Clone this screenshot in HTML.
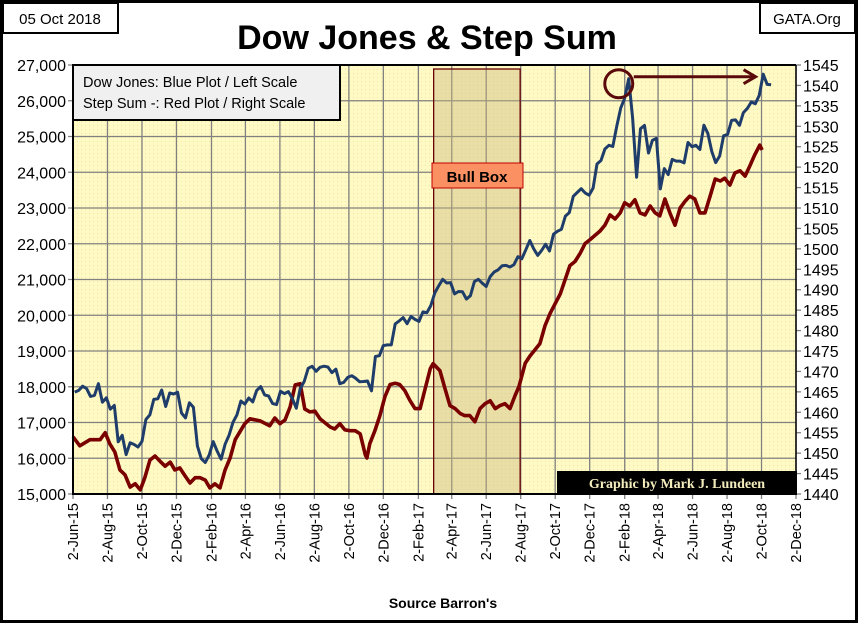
<!DOCTYPE html>
<html><head><meta charset="utf-8">
<style>
html,body{margin:0;padding:0;background:#fff;}
#wrap{position:relative;width:858px;height:623px;overflow:hidden;font-family:"Liberation Sans",sans-serif;}
svg text{font-family:"Liberation Sans",sans-serif;}
</style></head>
<body>
<div id="wrap">
<svg id="chart" width="858" height="623" xmlns="http://www.w3.org/2000/svg">
  <defs>
    <pattern id="dots" width="4" height="4" patternUnits="userSpaceOnUse">
      <rect width="4" height="4" fill="#fffac3"/>
      <rect x="1" y="1" width="1" height="1" fill="#eee3ab"/>
    </pattern>
  </defs>
  <rect x="1.5" y="1.5" width="855" height="620" fill="#fff" stroke="#000" stroke-width="3"/>
  <rect x="3" y="3" width="115" height="30" fill="#fff" stroke="#000" stroke-width="2"/>
  <text x="60" y="24" font-size="15" text-anchor="middle">05 Oct 2018</text>
  <rect x="760" y="3" width="95" height="30" fill="#fff" stroke="#000" stroke-width="2"/>
  <text x="807" y="24" font-size="15" text-anchor="middle">GATA.Org</text>
  <text x="427" y="49" font-size="34" font-weight="bold" text-anchor="middle">Dow Jones &amp; Step Sum</text>
  <rect x="73" y="65" width="723" height="429" fill="url(#dots)"/>
  <g id="grid"></g>
  <g id="bull"></g>
  <g id="series"></g>
  <g id="axes"></g>
  <rect x="73" y="65" width="267" height="55" fill="#f0f0f0" stroke="#000" stroke-width="2"/>
  <text x="83" y="87" font-size="14.5">Dow Jones: Blue Plot / Left Scale</text>
  <text x="83" y="108" font-size="14.5">Step Sum -: Red Plot / Right Scale</text>
  <rect x="557" y="471" width="240" height="23" fill="#000"/>
  <text x="677" y="488" font-size="14" font-weight="bold" fill="#f3ecbd" text-anchor="middle" style="font-family:'Liberation Serif',serif">Graphic by Mark J. Lundeen</text>
  <text x="443" y="608" font-size="14" font-weight="bold" text-anchor="middle">Source Barron's</text>
</svg>
</div>
<script>
const dowStart = "2015-06-05";
const dowValues = [17849,17899,18015,17947,17730,17760,18086,17568,17690,17373,17477,16460,16643,16102,16433,16385,16315,16472,
17084,17216,17646,17663,17910,17448,17824,17798,17847,17265,17128,17552,17425,
16346,15988,15882,16093,16466,16204,15973,16392,16639,17006,17213,17602,17515,17685,17577,17897,18003,17773,17740,17535,17500,17873,
17807,17865,17675,17400,17949,18147,18516,18571,18432,18543,18576,18552,18395,18492,18085,18124,18261,18308,18240,18138,18146,18161,17888,
18847,18868,19152,19170,19171,19757,19843,19934,19763,
19964,19885,19827,20094,20071,20269,20624,20822,21005,20903,20914,20596,20663,20656,20453,20548,20940,21006,20896,20804,21080,21206,
21271,21384,21394,21349,21414,21637,21580,21830,22092,21858,21674,21813,21987,21797,22268,22349,22405,22773,22871,23328,23434,23539,
23422,23358,23558,24231,24329,24651,24754,24719,
25295,25803,26071,26616,25521,23860,25219,25310,24538,24895,24946,23533,24103,23933,24360,24311,24311,24262,24831,24715,24753,24635,
25317,25090,24580,24271,24456,25019,25058,25451,25463,25313,25669,25790,25965,25916,26154,26743,26458,26447];
const stepDays = [0,12,30,48,57,65,74,83,92,101,110,119,127,136,145,154,163,172,180,189,198,207,216,225,234,242,251,260,269,278,287,295,304,313,331,348,357,366,375,384,393,402,410,419,428,437,446,455,463,472,481,490,499,508,517,520,525,534,543,552,561,570,578,587,596,605,614,623,632,637,649,658,667,676,685,693,702,711,720,729,738,747,755,764,773,782,789,800,808,826,835,844,853,862,879,888,897,906,915,932,941,950,959,968,976,985,994,1003,1012,1021,1030,1038,1047,1056,1065,1074,1083,1091,1100,1109,1118,1127,1136,1145,1153,1162,1171,1180,1189,1198,1206,1215,1219];
const stepValues = [1454,1451.8,1453.3,1453.3,1455,1452.3,1450.3,1445.9,1444.7,1441.7,1442.5,1441,1444,1448.3,1449.3,1448,1446.8,1447.8,1445.9,1446.4,1444.5,1442.7,1444,1444,1443.4,1441.5,1442.5,1441.5,1445.9,1448.8,1453.3,1455.2,1457.2,1458.4,1457.9,1456.7,1458.6,1457.2,1458.1,1461.3,1466.7,1467,1460.8,1460.1,1460.3,1458.4,1457.4,1456.4,1455.9,1457.2,1455.7,1455.5,1455.5,1454.7,1449.6,1448.8,1452.3,1455.5,1459.2,1463.9,1466.8,1467.1,1466.8,1465.3,1462.9,1460.9,1460.9,1465.8,1470.7,1471.9,1470.2,1465.8,1461.6,1460.9,1459.7,1459.2,1459.2,1457.7,1460.9,1462.1,1462.8,1460.9,1461.6,1462.1,1460.9,1464.1,1466.3,1472,1473.7,1476.8,1481.2,1484.2,1486.6,1489,1495.9,1496.9,1498.9,1501.3,1502.3,1504.3,1505.8,1508.3,1507.3,1508.8,1511.3,1510.5,1512,1508.8,1508.3,1510.5,1508.8,1508.1,1512.2,1508.8,1505.8,1510,1511.7,1512.9,1512.2,1508.8,1508.8,1512.9,1517.1,1516.6,1517.3,1515.6,1518.6,1519.1,1517.8,1520.5,1523,1525.4,1524.2];
const xTickLabels = ["2-Jun-15","2-Aug-15","2-Oct-15","2-Dec-15","2-Feb-16","2-Apr-16","2-Jun-16","2-Aug-16","2-Oct-16","2-Dec-16","2-Feb-17","2-Apr-17","2-Jun-17","2-Aug-17","2-Oct-17","2-Dec-17","2-Feb-18","2-Apr-18","2-Jun-18","2-Aug-18","2-Oct-18","2-Dec-18"];
const leftTicks = [15000,16000,17000,18000,19000,20000,21000,22000,23000,24000,25000,26000,27000];
const rightTicks = [1440,1445,1450,1455,1460,1465,1470,1475,1480,1485,1490,1495,1500,1505,1510,1515,1520,1525,1530,1535,1540,1545];
const bullBoxRange = ["2017-03-01","2017-08-01"];
const peakDate = "2018-01-26", peakValue = 26616, arrowEndDate = "2018-09-25";

const NS = "http://www.w3.org/2000/svg";
const L=73,R=796,T=65,B=494;
const t0 = Date.parse("2015-06-02"), t1 = Date.parse("2018-12-02");
const DAY = 86400000;
function xDate(ms){return L+(ms-t0)/(t1-t0)*(R-L);}
function xDay(d){return xDate(t0+d*DAY);}
function yL(v){return B-(v-15000)/(27000-15000)*(B-T);}
function yR(v){return B-(v-1440)/(1545-1440)*(B-T);}
function mk(tag,attrs,parent){const e=document.createElementNS(NS,tag);for(const k in attrs)e.setAttribute(k,attrs[k]);parent.appendChild(e);return e;}

const grid=document.getElementById('grid'), axes=document.getElementById('axes'), ser=document.getElementById('series'), bull=document.getElementById('bull');
xTickLabels.forEach((lab,i)=>{
  const p=lab.split('-'); const mon={Jan:0,Feb:1,Mar:2,Apr:3,May:4,Jun:5,Jul:6,Aug:7,Sep:8,Oct:9,Nov:10,Dec:11}[p[1]];
  const ms=Date.UTC(2000+ +p[2],mon,+p[0]); const x=xDate(ms);
  const ln=mk('line',{x1:x,x2:x,y1:T,y2:B+5,stroke:'#808080','stroke-width':1.3},grid);
  
  
  const tx=mk('text',{x:0,y:0,'font-size':14.5,'text-anchor':'end',transform:`translate(${x+5},503) rotate(-90)`},axes);
  tx.textContent=lab;
  
  
});
leftTicks.forEach(v=>{
  const y=yL(v);
  const ln=mk('line',{x1:L-5,x2:R,y1:y,y2:y,stroke:'#808080','stroke-width':1.3},grid);
  
  
  const tx=mk('text',{x:66,y:y+6,'font-size':16,'text-anchor':'end'},axes);
  tx.textContent=v.toLocaleString('en-US');
  
  
});
rightTicks.forEach(v=>{
  const y=yR(v);
  const ln=mk('line',{x1:R,x2:R+5,y1:y,y2:y,stroke:'#808080','stroke-width':1.3},axes);
  
  
  const tx=mk('text',{x:803,y:y+6,'font-size':16},axes);
  tx.textContent=v;
  
  
});
let a=mk('line',{x1:L,x2:L,y1:T,y2:B+1,stroke:'#000','stroke-width':2},axes);


a=mk('line',{x1:L,x2:R+1,y1:B,y2:B,stroke:'#000','stroke-width':2},axes);


a=mk('line',{x1:R,x2:R,y1:T,y2:B,stroke:'#000','stroke-width':1.5},axes);


a=mk('line',{x1:L,x2:R,y1:T,y2:T,stroke:'#000','stroke-width':2},axes);


const bx1=xDate(Date.parse(bullBoxRange[0])), bx2=xDate(Date.parse(bullBoxRange[1]));
let bb=mk('rect',{x:bx1,y:69,width:bx2-bx1,height:B-69,fill:'#c9b77a','fill-opacity':0.4,stroke:'#6b0000','stroke-width':1.3},bull);


let bl=mk('rect',{x:432,y:163,width:91,height:25,fill:'#fb9062',stroke:'#c00000','stroke-width':1},bull);


let bt=mk('text',{x:477,y:182,'font-size':15,'font-weight':'bold','text-anchor':'middle'},bull);
bt.textContent='Bull Box';


const s0=Date.parse(dowStart);
const dowPts=dowValues.map((v,i)=>xDate(s0+i*7*DAY).toFixed(1)+','+yL(v).toFixed(1)).join(' ');
const stepPts=stepValues.map((v,i)=>xDay(stepDays[i]).toFixed(1)+','+yR(v).toFixed(1)).join(' ');
let rl=mk('polyline',{points:stepPts,fill:'none',stroke:'#7a0000','stroke-width':3.6,'stroke-linejoin':'round'},ser);


let dl=mk('polyline',{points:dowPts,fill:'none',stroke:'#1f3d6b','stroke-width':3,'stroke-linejoin':'round'},ser);


const cx=xDate(Date.parse(peakDate)), cy=yL(peakValue)+5;
let c=mk('circle',{cx:cx-2,cy:cy,r:14,fill:'none',stroke:'#5a0a0a','stroke-width':3},ser);


const ax2=xDate(Date.parse(arrowEndDate));
let ar=mk('line',{x1:cx+13,x2:ax2-4,y1:cy-7,y2:cy-7,stroke:'#5a0a0a','stroke-width':3},ser);


let ah=mk('polyline',{points:`${ax2-14},${cy-14} ${ax2-2},${cy-7} ${ax2-14},${cy}`,fill:'none',stroke:'#5a0a0a','stroke-width':3},ser);


</script>
</body></html>
